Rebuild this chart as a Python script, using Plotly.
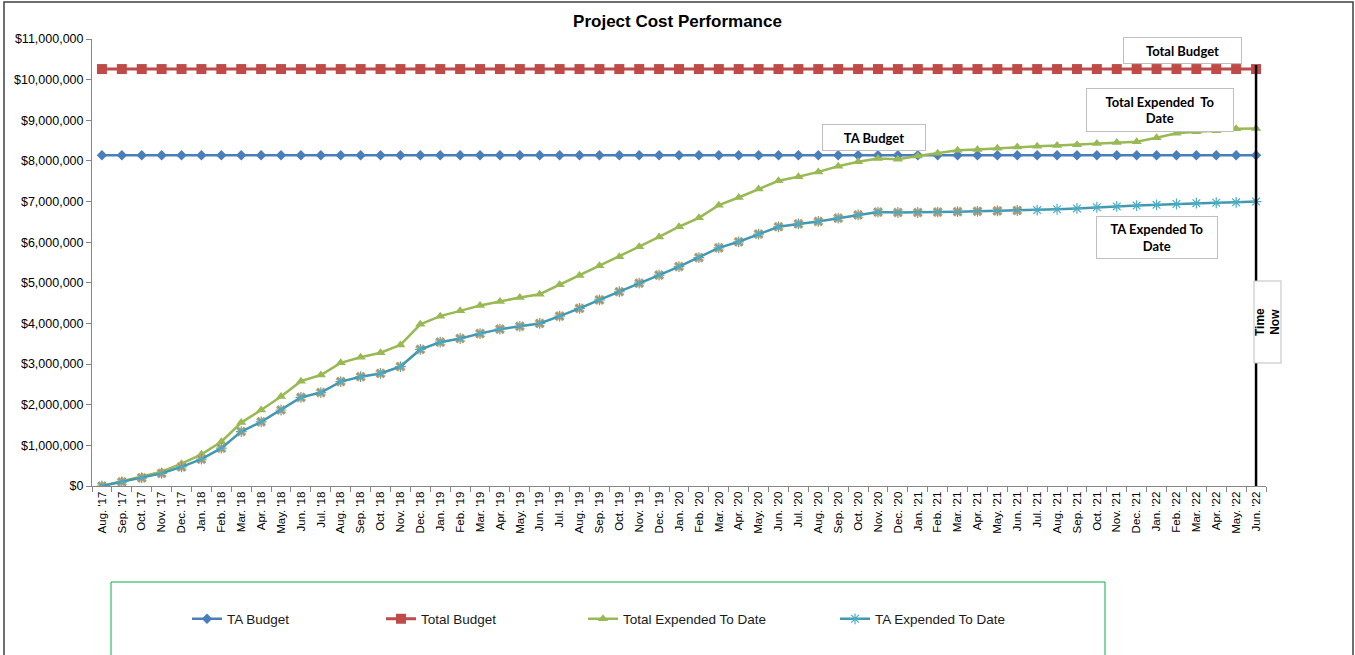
import plotly.graph_objects as go

months = ["Aug. '17", "Sep. '17", "Oct. '17", "Nov. '17", "Dec. '17"]
for yy in ["18", "19", "20", "21"]:
    months += [m + " '" + yy for m in ["Jan.", "Feb.", "Mar.", "Apr.", "May.", "Jun.", "Jul.", "Aug.", "Sep.", "Oct.", "Nov.", "Dec."]]
months += [m + " '22" for m in ["Jan.", "Feb.", "Mar.", "Apr.", "May.", "Jun."]]

ta_budget = [8140000] * len(months)
total_budget = [10260000] * len(months)

total_expended = [0, 0.12, 0.23, 0.35, 0.55, 0.78, 1.09, 1.56, 1.87, 2.20, 2.58, 2.73, 3.03, 3.17, 3.28, 3.47,
                  3.98, 4.18, 4.31, 4.44, 4.54, 4.64, 4.72, 4.95, 5.18, 5.42, 5.64, 5.89, 6.13, 6.38, 6.60,
                  6.91, 7.10, 7.31, 7.51, 7.61, 7.73, 7.87, 7.98, 8.06, 8.04, 8.12, 8.19, 8.26, 8.28, 8.31,
                  8.34, 8.36, 8.38, 8.40, 8.43, 8.45, 8.47, 8.57, 8.68, 8.72, 8.74, 8.79, 8.80]
total_expended = [v * 1e6 for v in total_expended]

ta_expended = [0, 0.10, 0.20, 0.31, 0.47, 0.66, 0.93, 1.34, 1.58, 1.87, 2.18, 2.30, 2.57, 2.69, 2.77, 2.94,
               3.36, 3.54, 3.63, 3.75, 3.86, 3.93, 4.00, 4.18, 4.37, 4.58, 4.78, 4.99, 5.19, 5.40, 5.62,
               5.86, 6.01, 6.20, 6.38, 6.45, 6.51, 6.59, 6.67, 6.74, 6.73, 6.73, 6.74, 6.75, 6.76, 6.77,
               6.78, 6.79, 6.81, 6.83, 6.86, 6.88, 6.90, 6.92, 6.94, 6.96, 6.97, 6.98, 7.00]
ta_expended = [v * 1e6 for v in ta_expended]

# actual (orange) markers shown up to Jun. '21
actual_end = months.index("Jun. '21") + 1
ta_actual_months = months[:actual_end]
ta_actual = ta_expended[:actual_end]

time_now = "Jun. '22"

W, H = 1355, 655
L, R, T, B = 92, 89, 39, 169
PW, PH = W - L - R, H - T - B


def px_x(p):
    return (p - L) / PW


def px_y(p):
    return (H - B - p) / PH


fig = go.Figure()

fig.add_trace(go.Scatter(x=months, y=ta_budget, name="TA Budget", mode="lines+markers",
                         line=dict(color="#4A7EBB", width=2.5),
                         marker=dict(symbol="diamond", size=8, color="#4A7EBB"), legend="legend"))
fig.add_trace(go.Scatter(x=months, y=total_budget, name="Total Budget", mode="lines+markers",
                         line=dict(color="#BE4B48", width=3),
                         marker=dict(symbol="square", size=10, color="#BE4B48"), legend="legend2"))
fig.add_trace(go.Scatter(x=months, y=total_expended, name="Total Expended To Date", mode="lines+markers",
                         line=dict(color="#98B954", width=2.5),
                         marker=dict(symbol="triangle-up", size=9, color="#98B954"), legend="legend3"))
fig.add_trace(go.Scatter(x=ta_actual_months, y=ta_actual, name="TA Actual", mode="markers",
                         marker=dict(symbol="x", size=9, color="#F79646", line=dict(width=0)),
                         showlegend=False))
fig.add_trace(go.Scatter(x=months, y=ta_expended, name="TA Expended To Date", mode="lines+markers",
                         line=dict(color="#4198AF", width=2.5),
                         marker=dict(symbol="asterisk-open", size=9, color="#4BACC6",
                                     line=dict(width=1.2, color="#4BACC6")), legend="legend4"))

# Time Now line
fig.add_shape(type="line", xref="x", yref="y", x0=time_now, x1=time_now, y0=0, y1=10360000,
              line=dict(color="black", width=2.5))

# outer frame and legend frame
fig.add_shape(type="rect", xref="paper", yref="paper", x0=px_x(4), x1=px_x(1353), y0=px_y(2), y1=px_y(720),
              line=dict(color="#404040", width=1.5), layer="below")
fig.add_shape(type="rect", xref="paper", yref="paper", x0=px_x(111), x1=px_x(1105), y0=px_y(582), y1=px_y(720),
              line=dict(color="#00B050", width=1), layer="below")

box_font = dict(family="Lato, Open Sans, sans-serif", size=13, color="black")


def label(text, cx, cy, w, h, font=box_font, angle=0):
    fig.add_annotation(xref="paper", yref="paper", x=px_x(cx), y=px_y(cy), text=text, showarrow=False,
                       xanchor="center", yanchor="middle", width=w, height=h, borderpad=0,
                       bgcolor="white", bordercolor="#BFBFBF", borderwidth=1, font=font, textangle=angle,
                       align="center")


label("<b>Total Budget</b>", 1182.5, 50.5, 117, 25)
label("<b>Total Expended  To<br>Date</b>", 1160, 110, 146, 42)
label("<b>TA Budget</b>", 874, 137, 102, 25)
label("<b>TA Expended To<br>Date</b>", 1157, 237.5, 120, 41)
label("<b>Time<br>Now</b>", 1267, 322.5, 81, 26,
      font=dict(family="Arial, Liberation Sans, sans-serif", size=12, color="black"), angle=-90)

legend_font = dict(family="Liberation Sans Narrow, Arial Narrow, Liberation Sans, Arial, sans-serif", size=13.5, color="#1a1a1a")
leg_y = px_y(619)


def leg(text_x):
    return dict(x=px_x(text_x - 42), y=leg_y, xanchor="left", yanchor="middle", orientation="h",
                font=legend_font, bgcolor="rgba(0,0,0,0)", borderwidth=0, itemwidth=30)


fig.update_layout(
    width=W, height=H,
    margin=dict(l=L, r=R, t=T, b=B, autoexpand=False),
    paper_bgcolor="white", plot_bgcolor="white",
    title=dict(text="<b>Project Cost Performance</b>", x=0.5, xref="container", xanchor="center",
               y=1 - 21 / H, yref="container", yanchor="middle",
               font=dict(family="Arial, Liberation Sans, sans-serif", size=17, color="black")),
    xaxis=dict(type="category", tickangle=-90, tickson="boundaries", ticks="outside", ticklen=5,
               tickcolor="#868686", showline=True, linecolor="#868686", linewidth=1, showgrid=False,
               tickfont=dict(family="Arial, Liberation Sans, sans-serif", size=11.5, color="black"),
               range=[-0.5, len(months) - 0.5], fixedrange=True),
    yaxis=dict(range=[0, 11000000], dtick=1000000, tickformat="$,.0f", ticks="outside", ticklen=5,
               tickcolor="#868686", showline=True, linecolor="#868686", linewidth=1, showgrid=False,
               zeroline=False,
               tickfont=dict(family="Arial, Liberation Sans, sans-serif", size=12.5, color="black")),
    legend=leg(229), legend2=leg(423), legend3=leg(625), legend4=leg(877),
    showlegend=True,
)

fig.write_html("out.html", config={"displayModeBar": False},
               post_script="document.body.style.margin='0';document.body.style.overflow='hidden';")
